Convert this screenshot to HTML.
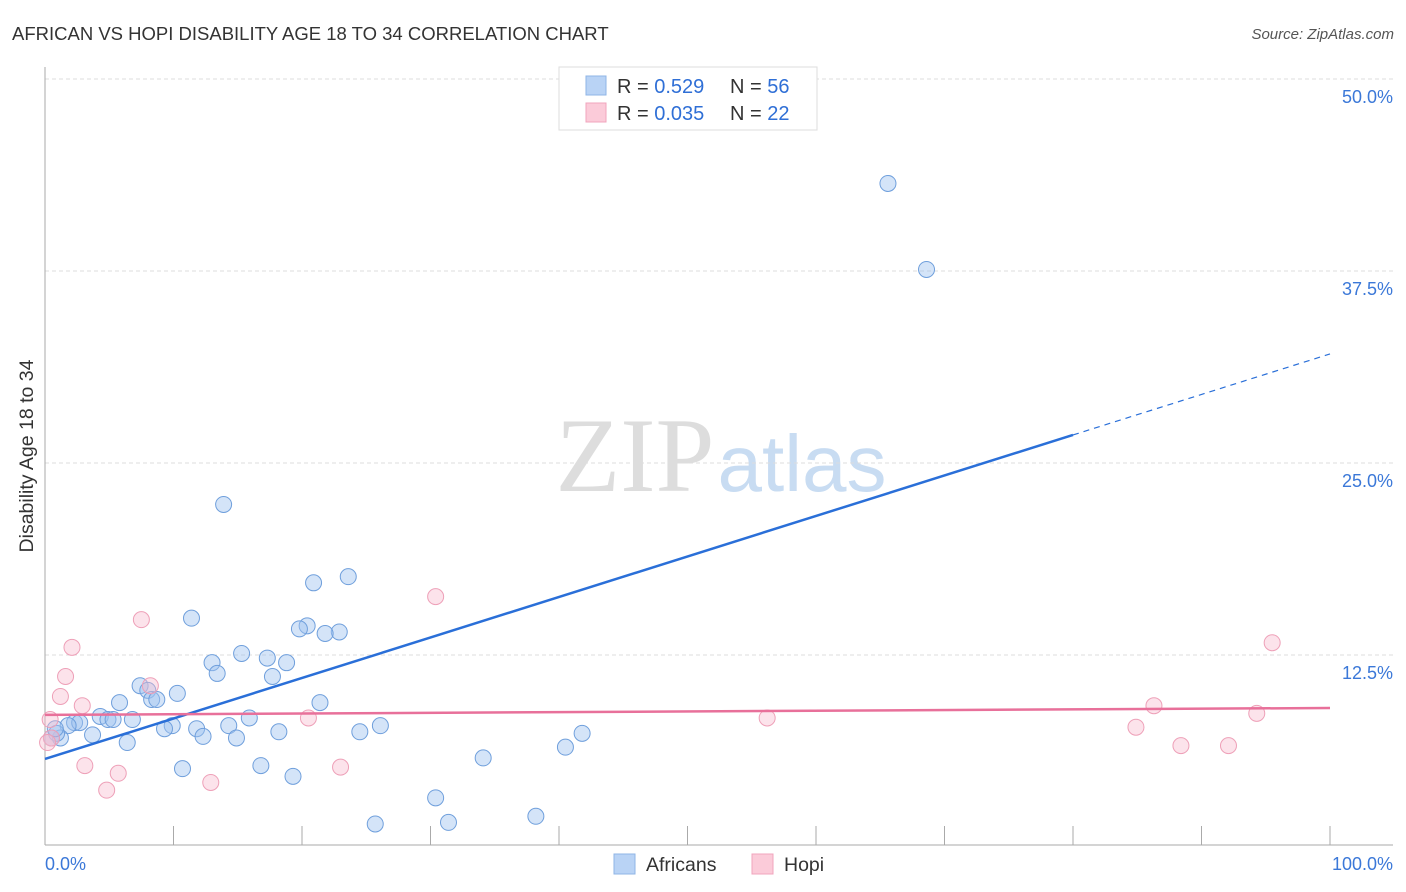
<!DOCTYPE html>
<html><head><meta charset="utf-8">
<style>
body{margin:0;background:#fff;font-family:"Liberation Sans",sans-serif;}
svg{display:block}
</style></head>
<body>
<svg id="chart" width="1406" height="892">
<text x="12" y="40" font-size="18.5" fill="#333">AFRICAN VS HOPI DISABILITY AGE 18 TO 34 CORRELATION CHART</text>
<text x="1394" y="39" font-size="15" fill="#555" font-style="italic" text-anchor="end">Source: ZipAtlas.com</text>
<text x="0" y="0" font-size="19.5" fill="#333" transform="translate(33,456) rotate(-90)" text-anchor="middle">Disability Age 18 to 34</text>
<g>
<text x="635" y="491" font-size="106" font-family="Liberation Serif,serif" fill="#ddd" text-anchor="middle">ZIP</text>
<text x="802" y="491" font-size="80" fill="#c8dcf2" text-anchor="middle">atlas</text>
</g>
<g id="grid"></g>
<g id="axes"></g>
<g id="marks"></g>
<g>
<rect x="559" y="67" width="258" height="63" fill="#fff" stroke="#ddd"/>
<rect x="586" y="76" width="20" height="19" fill="#b9d3f5" stroke="#8fb4e6"/>
<rect x="586" y="103" width="20" height="19" fill="#fbcbd9" stroke="#f0a5bd"/>
<text x="617" y="93" font-size="20" fill="#333">R = <tspan fill="#2f6fd6">0.529</tspan></text>
<text x="730" y="93" font-size="20" fill="#333">N = <tspan fill="#2f6fd6">56</tspan></text>
<text x="617" y="120" font-size="20" fill="#333">R = <tspan fill="#2f6fd6">0.035</tspan></text>
<text x="730" y="120" font-size="20" fill="#333">N = <tspan fill="#2f6fd6">22</tspan></text>
</g>
<g>
<rect x="614" y="854" width="21" height="20" fill="#b9d3f5" stroke="#8fb4e6"/>
<text x="646" y="871" font-size="19.5" fill="#333">Africans</text>
<rect x="752" y="854" width="21" height="20" fill="#fbcbd9" stroke="#f0a5bd"/>
<text x="784" y="871" font-size="19.5" fill="#333">Hopi</text>
</g>
</svg>
<script>
const yTicks=[12.5,25,37.5,50];
const yTickLabels=["12.5%","25.0%","37.5%","50.0%"];
const xTickLabels=["0.0%","100.0%"];
const africansX=[65.6,68.6,13.9,23.6,20.9,11.4,20.4,19.8,22.9,21.8,15.3,17.3,13.0,18.8,13.4,17.7,7.4,8.0,10.3,8.3,8.7,21.4,5.8,4.3,4.9,5.3,6.8,15.9,2.3,2.7,1.8,9.9,9.3,11.8,14.3,26.1,24.5,18.2,12.3,14.9,3.7,1.2,0.9,0.5,6.4,41.8,40.5,34.1,16.8,10.7,19.3,30.4,38.2,31.4,25.7,0.8];
const africansY=[43.2,37.6,22.3,17.6,17.2,14.9,14.4,14.2,14.0,13.9,12.6,12.3,12.0,12.0,11.3,11.1,10.5,10.2,10.0,9.6,9.6,9.4,9.4,8.5,8.3,8.3,8.3,8.4,8.1,8.1,7.9,7.9,7.7,7.7,7.9,7.9,7.5,7.5,7.2,7.1,7.3,7.1,7.4,7.1,6.8,7.4,6.5,5.8,5.3,5.1,4.6,3.2,2.0,1.6,1.5,7.7];
const hopiX=[30.4,7.5,2.1,1.6,8.2,1.2,2.9,20.5,56.2,86.3,94.3,95.5,84.9,88.4,92.1,3.1,5.7,23.0,12.9,4.8,0.5,0.4,0.2];
const hopiY=[16.3,14.8,13.0,11.1,10.5,9.8,9.2,8.4,8.4,9.2,8.7,13.3,7.8,6.6,6.6,5.3,4.8,5.2,4.2,3.7,7.1,8.3,6.8];
const africansTrend=[5.73,32.1];
const hopiTrend=[8.6,9.05];
const trendSolidEnd=80;

const NS="http://www.w3.org/2000/svg";
const X0=45,X1=1330,Y0=847,YPX=15.36;
const sx=v=>X0+(X1-X0)*v/100;
const sy=v=>Y0-v*YPX;
function mk(tag,attrs,parent){const e=document.createElementNS(NS,tag);for(const k in attrs)e.setAttribute(k,attrs[k]);parent.appendChild(e);return e;}
const grid=document.getElementById('grid'),axes=document.getElementById('axes'),marks=document.getElementById('marks');
yTicks.forEach((t,i)=>{
  const g=mk('line',{x1:X0,x2:1393,y1:sy(t),y2:sy(t),stroke:'#ddd','stroke-dasharray':'4,3'},grid);
  
  
  const l=mk('text',{x:1393,y:sy(t)+24,'font-size':18,fill:'#3b78d8','text-anchor':'end'},axes);
  l.textContent=yTickLabels[i];
  
  
});
const ya=mk('line',{x1:X0,x2:X0,y1:67,y2:845,stroke:'#aaa'},axes);


const xa=mk('line',{x1:X0,x2:1393,y1:845,y2:845,stroke:'#aaa'},axes);


for(let i=1;i<=10;i++){
  const t=mk('line',{x1:sx(i*10),x2:sx(i*10),y1:826,y2:845,stroke:'#aaa'},axes);
  
  
}
[[0,'start',45],[100,'end',1393]].forEach((d,i)=>{
  const l=mk('text',{x:d[2],y:870,'font-size':18,fill:'#3b78d8','text-anchor':d[1]},axes);
  l.textContent=xTickLabels[i];
  
  
});
africansX.forEach((x,i)=>{
  const c=mk('circle',{cx:sx(x),cy:sy(africansY[i]),r:8,fill:'rgba(160,196,240,0.45)',stroke:'#6f9fdc','stroke-width':1},marks);
  
  
});
hopiX.forEach((x,i)=>{
  const c=mk('circle',{cx:sx(x),cy:sy(hopiY[i]),r:8,fill:'rgba(247,185,205,0.4)',stroke:'#eea0b8','stroke-width':1},marks);
  
  
});
const aAt=v=>africansTrend[0]+(africansTrend[1]-africansTrend[0])*v/100;
const bl=mk('line',{x1:sx(0),y1:sy(aAt(0)),x2:sx(trendSolidEnd),y2:sy(aAt(trendSolidEnd)),stroke:'#2a6fd8','stroke-width':2.5},marks);


const bd=mk('line',{x1:sx(trendSolidEnd),y1:sy(aAt(trendSolidEnd)),x2:sx(100),y2:sy(aAt(100)),stroke:'#2a6fd8','stroke-width':1.2,'stroke-dasharray':'6,5'},marks);


const pl=mk('line',{x1:sx(0),y1:sy(hopiTrend[0]),x2:sx(100),y2:sy(hopiTrend[1]),stroke:'#e8709a','stroke-width':2.5},marks);


</script>
</body></html>
